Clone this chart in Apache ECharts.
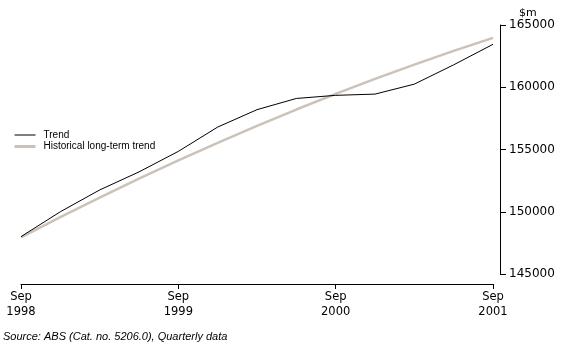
<!DOCTYPE html>
<html>
<head>
<meta charset="utf-8">
<script src="https://cdn.jsdelivr.net/npm/echarts@6/dist/echarts.min.js"></script>
<style>
  html, body { margin: 0; padding: 0; background: #fff; }
  #chart { width: 565px; height: 350px; }
</style>
</head>
<body>
<div id="chart"></div>
<script>
// Quarterly periods, Sep 1998 to Sep 2001
const quarters = [
  'Sep\n1998', 'Dec\n1998', 'Mar\n1999', 'Jun\n1999',
  'Sep\n1999', 'Dec\n1999', 'Mar\n2000', 'Jun\n2000',
  'Sep\n2000', 'Dec\n2000', 'Mar\n2001', 'Jun\n2001',
  'Sep\n2001'
];

// Trend estimates, $m
const trend = [
  148000, 150000, 151750, 153200, 154850, 156800, 158200,
  159100, 159350, 159450, 160250, 161800, 163450
];

// Historical long-term trend, $m
const longTermTrend = [
  147950, 149570, 151140, 152660, 154130, 155540, 156900,
  158210, 159470, 160670, 161820, 162920, 163970
];

// Value axis ticks
const yMin = 145000;
const yMax = 165000;
const yStep = 5000;

const tickFont = 'DejaVu Sans';
const smallFont = 'Liberation Sans';
const trendColor = '#000000';
const longTermColor = '#cbc2b8';

const chart = echarts.init(document.getElementById('chart'), null, { renderer: 'canvas' });

chart.setOption({
  animation: false,
  backgroundColor: '#ffffff',
  title: {
    text: 'Source: ABS (Cat. no. 5206.0), Quarterly data',
    left: 3,
    top: 331,
    padding: 0,
    textStyle: {
      fontFamily: smallFont,
      fontSize: 11,
      fontStyle: 'italic',
      fontWeight: 'normal',
      color: '#000'
    }
  },
  legend: {
    orient: 'vertical',
    left: 13,
    top: 130,
    padding: 0,
    itemWidth: 21,
    itemHeight: 12,
    itemGap: 1.5,
    itemStyle: { opacity: 0 },
    textStyle: {
      fontFamily: smallFont,
      fontSize: 10,
      color: '#000',
      padding: [0, 0, 0, 3]
    },
    data: [
      { name: 'Trend', lineStyle: { width: 1, color: trendColor }, itemStyle: { opacity: 0 } },
      { name: 'Historical long-term trend', lineStyle: { width: 3, color: longTermColor }, itemStyle: { opacity: 0 } }
    ]
  },
  grid: {
    left: 21,
    right: 72,
    top: 25,
    bottom: 76,
    containLabel: false,
    outerBoundsMode: 'none'
  },
  xAxis: {
    type: 'category',
    data: quarters,
    boundaryGap: false,
    offset: 10,
    axisLine: { lineStyle: { color: '#000', width: 1 } },
    axisTick: { interval: 3, length: 5, lineStyle: { color: '#000', width: 1 } },
    axisLabel: {
      interval: 3,
      color: '#000',
      fontFamily: tickFont,
      fontSize: 11.5,
      lineHeight: 15,
      margin: 6
    },
    splitLine: { show: false }
  },
  yAxis: {
    type: 'value',
    position: 'right',
    min: yMin,
    max: yMax,
    interval: yStep,
    offset: 7,
    name: '$m',
    nameLocation: 'end',
    nameGap: 3,
    nameTextStyle: {
      fontFamily: tickFont,
      fontSize: 11,
      color: '#000',
      align: 'left',
      padding: [0, 0, 0, 19]
    },
    axisLine: { show: true, lineStyle: { color: '#000', width: 1 } },
    axisTick: { show: true, length: 6, lineStyle: { color: '#000', width: 1 } },
    axisLabel: {
      color: '#000',
      fontFamily: tickFont,
      fontSize: 12,
      margin: 9,
      formatter: (v) => String(v)
    },
    splitLine: { show: false }
  },
  series: [
    {
      name: 'Historical long-term trend',
      type: 'line',
      data: longTermTrend,
      symbol: 'none',
      smooth: false,
      lineStyle: { color: longTermColor, width: 2.5 },
      itemStyle: { color: longTermColor },
      z: 2
    },
    {
      name: 'Trend',
      type: 'line',
      data: trend,
      symbol: 'none',
      smooth: false,
      lineStyle: { color: trendColor, width: 1 },
      itemStyle: { color: trendColor },
      z: 3
    }
  ]
});
</script>
</body>
</html>
